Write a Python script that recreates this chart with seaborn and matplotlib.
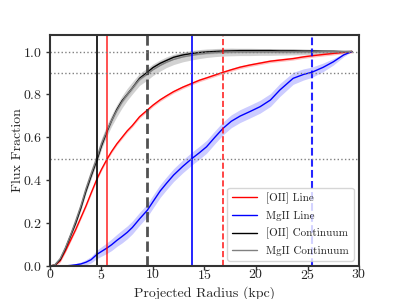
import numpy as np
import pandas as pd
import seaborn as sns
import matplotlib.pyplot as plt

# radius grid (kpc)
radius = [0, 0.5, 1, 1.5, 2, 2.5, 3, 3.5, 4, 4.6, 5, 5.56, 6, 6.5, 7, 7.5, 8, 8.7, 9.45, 10,
          10.7, 11.3, 12, 12.9, 13.8, 14.5, 15.2, 16, 16.8, 17.6, 18.45, 19.4, 20.4, 21.4,
          22.3, 23.6, 24.6, 25.4, 26.5, 27.5, 28.5, 29.3]

# [OII] line
oii_line = [0, 0.005, 0.025, 0.07, 0.12, 0.17, 0.225, 0.28, 0.34, 0.41, 0.45, 0.5, 0.535, 0.57,
            0.6, 0.63, 0.655, 0.696, 0.727, 0.75, 0.775, 0.793, 0.813, 0.834, 0.852, 0.866,
            0.877, 0.89, 0.903, 0.915, 0.927, 0.937, 0.946, 0.955, 0.96, 0.967, 0.975, 0.98,
            0.986, 0.991, 0.996, 1.0]
oii_line_err = 0.007

# MgII line
mgii_line = [0, 0, 0, 0.001, 0.003, 0.006, 0.01, 0.018, 0.03, 0.056, 0.068, 0.085, 0.1, 0.12,
             0.138, 0.157, 0.18, 0.22, 0.26, 0.3, 0.35, 0.385, 0.424, 0.465, 0.502, 0.528,
             0.556, 0.6, 0.642, 0.675, 0.699, 0.72, 0.743, 0.774, 0.82, 0.875, 0.893, 0.903,
             0.926, 0.952, 0.984, 1.0]
mgii_line_err = [0, 0, 0.001, 0.002, 0.004, 0.006, 0.009, 0.012, 0.015, 0.02, 0.022, 0.025,
                 0.027, 0.028, 0.03, 0.03, 0.03, 0.03, 0.03, 0.03, 0.03, 0.03, 0.03, 0.03, 0.03,
                 0.03, 0.03, 0.03, 0.03, 0.03, 0.03, 0.03, 0.03, 0.03, 0.03, 0.028, 0.026, 0.024,
                 0.02, 0.015, 0.008, 0]

# [OII] continuum
oii_cont = [0, 0.005, 0.03, 0.08, 0.14, 0.2, 0.27, 0.35, 0.42, 0.5, 0.56, 0.63, 0.68, 0.73,
            0.77, 0.8, 0.83, 0.875, 0.903, 0.925, 0.945, 0.958, 0.973, 0.984, 0.991, 0.995,
            0.998, 1.0, 1.002, 1.003, 1.004, 1.004, 1.004, 1.004, 1.003, 1.003, 1.002, 1.002,
            1.001, 1.001, 1.0, 1.0]
oii_cont_err = [0, 0.002, 0.004, 0.006, 0.008, 0.009, 0.01, 0.01, 0.01, 0.01, 0.01, 0.01, 0.01,
                0.01, 0.01, 0.01, 0.01, 0.01, 0.01, 0.01, 0.01, 0.01, 0.01, 0.01, 0.01, 0.01,
                0.01, 0.01, 0.01, 0.01, 0.01, 0.01, 0.01, 0.01, 0.01, 0.01, 0.009, 0.008, 0.007,
                0.005, 0.003, 0]

# MgII continuum
mgii_cont = [0, 0.007, 0.035, 0.085, 0.145, 0.21, 0.28, 0.36, 0.43, 0.51, 0.57, 0.635, 0.68,
             0.725, 0.765, 0.8, 0.83, 0.87, 0.895, 0.915, 0.935, 0.95, 0.963, 0.975, 0.983,
             0.988, 0.992, 0.995, 0.997, 0.998, 0.998, 0.998, 0.998, 0.998, 0.998, 0.998,
             0.998, 0.998, 0.999, 0.999, 0.999, 1.0]
mgii_cont_err = [0, 0.003, 0.006, 0.01, 0.013, 0.016, 0.018, 0.02, 0.022, 0.024, 0.025, 0.026,
                 0.027, 0.028, 0.028, 0.028, 0.028, 0.028, 0.028, 0.027, 0.026, 0.025, 0.024,
                 0.023, 0.022, 0.021, 0.02, 0.019, 0.018, 0.018, 0.017, 0.017, 0.016, 0.016,
                 0.015, 0.014, 0.013, 0.012, 0.01, 0.008, 0.005, 0]

# half-light (solid) and 90% (dashed) radii
r50 = [("red", 5.56, 0.8), ("blue", 13.8, 1.0), ("black", 4.6, 1.0)]
r90 = [("red", 16.8, 1.2), ("blue", 25.4, 1.5), ("#333333", 9.45, 2.0)]

sns.set_style("ticks")
plt.rcParams["font.family"] = "cmr10"
plt.rcParams["mathtext.fontset"] = "cm"
plt.rcParams["axes.formatter.use_mathtext"] = True
plt.rcParams["axes.unicode_minus"] = False

fig, ax = plt.subplots(figsize=(3.99, 2.99), dpi=100)
fig.subplots_adjust(left=0.125, right=0.9, top=0.883, bottom=0.11)

r = np.array(radius)
df = pd.DataFrame({"r": radius, "oii_line": oii_line, "mgii_line": mgii_line,
                   "oii_cont": oii_cont, "mgii_cont": mgii_cont})

# shaded uncertainty bands
for y, e, c, a in [(mgii_cont, mgii_cont_err, "gray", 0.35),
                   (oii_cont, oii_cont_err, "gray", 0.35),
                   (oii_line, oii_line_err, "red", 0.25),
                   (mgii_line, mgii_line_err, "blue", 0.2)]:
    y = np.array(y)
    e = np.array(e)
    ax.fill_between(r, y - e, y + e, color=c, alpha=a, lw=0)

sns.lineplot(data=df, x="r", y="oii_line", color="red", lw=1, ax=ax, label="[OII] Line")
sns.lineplot(data=df, x="r", y="mgii_line", color="blue", lw=1, ax=ax, label="MgII Line")
sns.lineplot(data=df, x="r", y="oii_cont", color="black", lw=1, ax=ax, label="[OII] Continuum")
sns.lineplot(data=df, x="r", y="mgii_cont", color="gray", lw=1, ax=ax, label="MgII Continuum")

for c, x, a in r50:
    ax.axvline(x, color=c, lw=1.2, alpha=a)
for c, x, w in r90:
    ax.axvline(x, color=c, lw=w, ls="--", alpha=0.85)

for y in [0.5, 0.9, 1.0]:
    ax.axhline(y, color="gray", ls=":", lw=1)

ax.set_xlim(0, 30)
ax.set_ylim(0, 1.077)
ax.set_xticks([0, 5, 10, 15, 20, 25, 30])
ax.set_yticks([0, 0.2, 0.4, 0.6, 0.8, 1.0])
ax.set_xlabel("Projected Radius (kpc)", fontsize=10, labelpad=3)
ax.set_ylabel("Flux Fraction", fontsize=10, labelpad=-1)
ax.tick_params(labelsize=10, length=3, width=1, color="#333333", pad=2.5)
ax.tick_params(axis="x", pad=-1.5)
for s in ax.spines.values():
    s.set_linewidth(1.5)
    s.set_color("#333333")

leg = ax.legend(loc="lower right", fontsize=8, frameon=True, handlelength=2.3,
                labelspacing=0.62, borderaxespad=0.5)
leg.get_frame().set_alpha(0.8)

fig.savefig("out.png", dpi=100)
